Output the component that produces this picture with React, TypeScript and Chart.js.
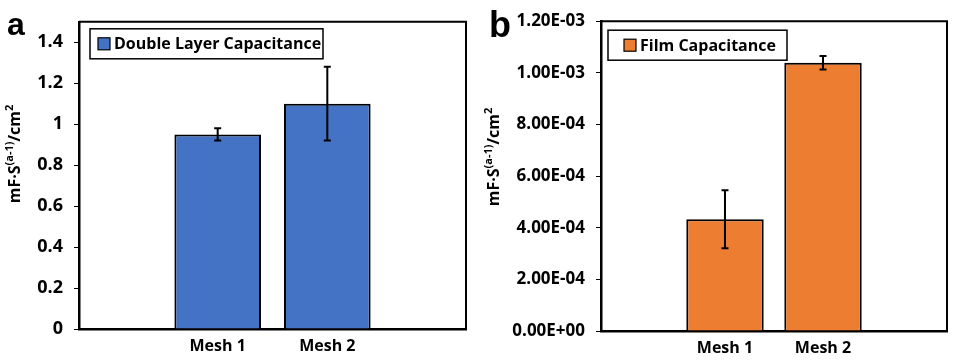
import React, { useEffect, useRef } from 'react';
import { Chart, registerables } from 'chart.js';

Chart.register(...registerables);

// ---------- data ----------
const categories = ['Mesh 1', 'Mesh 2'];
const categoryPositions = [1, 2];

const dlcLabel = 'Double Layer Capacitance';
const dlcValues = [0.95, 1.1];
const dlcErrors = [0.03, 0.18];
const dlcTicks = [0, 0.2, 0.4, 0.6, 0.8, 1.0, 1.2, 1.4];
const dlcTickLabels = ['0', '0.2', '0.4', '0.6', '0.8', '1', '1.2', '1.4'];

const filmLabel = 'Film Capacitance';
const filmValues = [4.33e-4, 1.039e-3];
const filmErrors = [1.12e-4, 2.65e-5];
const filmTicks = [0, 2e-4, 4e-4, 6e-4, 8e-4, 1e-3, 1.2e-3];
const filmTickLabels = ['0.00E+00', '2.00E-04', '4.00E-04', '6.00E-04', '8.00E-04', '1.00E-03', '1.20E-03'];

const yTitleParts = [
  { text: 'mF·S', sup: false },
  { text: '(a-1)', sup: true },
  { text: '/cm', sup: false },
  { text: '2', sup: true },
];

const FONT = '"Open Sans", Lato, sans-serif';

const decorPlugin = {
  id: 'decor',
  afterDatasetsDraw(chart: any, _args: any, opts: any) {
    const ctx = chart.ctx;
    const meta = chart.getDatasetMeta(0);
    const yScale = chart.scales.y;
    const ds = chart.data.datasets[0];
    ctx.save();
    ctx.strokeStyle = '#000';
    ctx.lineWidth = 2;
    meta.data.forEach((bar: any, i: number) => {
      const v = ds.data[i].y;
      const e = opts.errors[i];
      const yt = yScale.getPixelForValue(v + e);
      const yb = yScale.getPixelForValue(v - e);
      const x = bar.x;
      const cap = 3.5;
      ctx.beginPath();
      ctx.moveTo(x, yt);
      ctx.lineTo(x, yb);
      ctx.moveTo(x - cap, yt);
      ctx.lineTo(x + cap, yt);
      ctx.moveTo(x - cap, yb);
      ctx.lineTo(x + cap, yb);
      ctx.stroke();
    });
    ctx.restore();
  },
  afterDraw(chart: any, _args: any, opts: any) {
    const ctx = chart.ctx;
    const a = chart.chartArea;
    ctx.save();
    // top / right frame
    ctx.strokeStyle = '#000';
    ctx.lineWidth = 2;
    ctx.beginPath();
    ctx.moveTo(a.left, a.top);
    ctx.lineTo(a.right, a.top);
    ctx.lineTo(a.right, a.bottom);
    ctx.stroke();

    // legend
    const L = opts.legend;
    const lx = a.left + L.dx;
    const ly = a.top + L.dy;
    ctx.fillStyle = '#fff';
    ctx.fillRect(lx, ly, L.w, L.h);
    ctx.lineWidth = 1.5;
    ctx.strokeRect(lx, ly, L.w, L.h);
    const sw = 12;
    const sx = lx + L.pad;
    const sy = ly + (L.h - sw) / 2;
    ctx.fillStyle = chart.data.datasets[0].backgroundColor;
    ctx.fillRect(sx, sy, sw, sw);
    ctx.lineWidth = 1.2;
    ctx.strokeRect(sx, sy, sw, sw);
    ctx.fillStyle = '#000';
    ctx.font = `bold ${L.fontSize}px ${FONT}`;
    ctx.textBaseline = 'middle';
    ctx.textAlign = 'left';
    ctx.fillText(chart.data.datasets[0].label, sx + sw + 4, ly + L.h / 2 + 1);

    // y title with superscripts
    const T = opts.title;
    ctx.save();
    ctx.translate(T.x, T.y);
    ctx.rotate(-Math.PI / 2);
    const mainFont = `bold ${T.size}px ${FONT}`;
    const supFont = `bold ${Math.round(T.size * 0.68)}px ${FONT}`;
    let total = 0;
    yTitleParts.forEach((p) => {
      ctx.font = p.sup ? supFont : mainFont;
      total += ctx.measureText(p.text).width;
    });
    let x = -total / 2;
    ctx.textBaseline = 'middle';
    yTitleParts.forEach((p) => {
      ctx.font = p.sup ? supFont : mainFont;
      ctx.fillText(p.text, x, p.sup ? -5 : 0);
      x += ctx.measureText(p.text).width;
    });
    ctx.restore();

    // panel letter
    const P = opts.letter;
    ctx.font = `bold ${P.size}px "Liberation Sans", Arial, sans-serif`;
    ctx.textBaseline = 'alphabetic';
    ctx.textAlign = 'left';
    ctx.fillStyle = '#000';
    ctx.fillText(P.text, P.x, P.y);
    ctx.restore();
  },
};

type PanelCfg = {
  label: string;
  color: string;
  values: number[];
  errors: number[];
  ticks: number[];
  tickLabels: string[];
  yMax: number;
  yAxisWidth: number;
  xAxisHeight: number;
  padRight: number;
  padTop: number;
  tickFont: number;
  legend: any;
  title: any;
  letter: any;
};

function Panel({ cfg }: { cfg: PanelCfg }) {
  const ref = useRef<HTMLCanvasElement | null>(null);
  useEffect(() => {
    if (!ref.current) return;
    const chart = new Chart(ref.current, {
      type: 'bar',
      data: {
        datasets: [
          {
            label: cfg.label,
            data: categoryPositions.map((p, i) => ({ x: p, y: cfg.values[i] })),
            backgroundColor: cfg.color,
            borderColor: '#000',
            borderWidth: 2,
            barPercentage: 0.79,
            categoryPercentage: 1,
          },
        ],
      },
      options: {
        responsive: false,
        animation: false,
        layout: { padding: { left: 0, right: cfg.padRight, top: cfg.padTop, bottom: 0 } },
        plugins: {
          legend: { display: false },
          tooltip: { enabled: false },
          decor: {
            errors: cfg.errors,
            legend: cfg.legend,
            title: cfg.title,
            letter: cfg.letter,
          },
        } as any,
        scales: {
          x: {
            type: 'linear',
            min: -0.265,
            max: 3.265,
            offset: false,
            grid: { display: false, drawTicks: false },
            border: { display: true, color: '#000', width: 2.5 },
            afterBuildTicks: (s: any) => {
              s.ticks = categoryPositions.map((v) => ({ value: v }));
            },
            afterFit: (s: any) => {
              s.height = cfg.xAxisHeight;
            },
            ticks: {
              color: '#000',
              padding: 8,
              maxRotation: 0,
              font: { family: FONT, weight: 'bold', size: 16 },
              callback: (_v: any, i: number) => categories[i],
            },
          },
          y: {
            min: 0,
            max: cfg.yMax,
            afterBuildTicks: (s: any) => {
              s.ticks = cfg.ticks.map((v) => ({ value: v }));
            },
            afterFit: (s: any) => {
              s.width = cfg.yAxisWidth;
            },
            grid: {
              display: true,
              drawOnChartArea: false,
              drawTicks: true,
              tickLength: 5,
              color: '#000',
              lineWidth: 1,
            },
            border: { display: true, color: '#000', width: 2.5 },
            ticks: {
              color: '#000',
              padding: 11,
              font: { family: FONT, weight: 'bold', size: cfg.tickFont },
              callback: (_v: any, i: number) => cfg.tickLabels[i],
            },
          },
        },
      } as any,
      plugins: [decorPlugin as any],
    });
    return () => chart.destroy();
  }, [cfg]);
  return <canvas ref={ref} width={477} height={362} style={{ display: 'block', width: 477, height: 362 }} />;
}

const panelA: PanelCfg = {
  label: dlcLabel,
  color: '#4472C4',
  values: dlcValues,
  errors: dlcErrors,
  ticks: dlcTicks,
  tickLabels: dlcTickLabels,
  yMax: 1.5,
  yAxisWidth: 79,
  xAxisHeight: 33,
  padRight: 11,
  padTop: 10,
  tickFont: 18,
  legend: { dx: 11, dy: 7, w: 233, h: 30, pad: 8, fontSize: 16 },
  title: { x: 15, y: 154, size: 16 },
  letter: { text: 'a', x: 7, y: 35, size: 32 },
};

const panelB: PanelCfg = {
  label: filmLabel,
  color: '#ED7D31',
  values: filmValues,
  errors: filmErrors,
  ticks: filmTicks,
  tickLabels: filmTickLabels,
  yMax: 1.2e-3,
  yAxisWidth: 124,
  xAxisHeight: 31,
  padRight: 7,
  padTop: 13,
  tickFont: 17,
  legend: { dx: 7, dy: 9, w: 179, h: 30, pad: 16, fontSize: 16 },
  title: { x: 17, y: 157, size: 16 },
  letter: { text: 'b', x: 12, y: 37, size: 36 },
};

export default function App() {
  useEffect(() => {
    document.body.style.margin = '0';
  }, []);
  return (
    <div style={{ display: 'flex', width: 954, height: 362, background: '#fff' }}>
      <Panel cfg={panelA} />
      <Panel cfg={panelB} />
    </div>
  );
}
